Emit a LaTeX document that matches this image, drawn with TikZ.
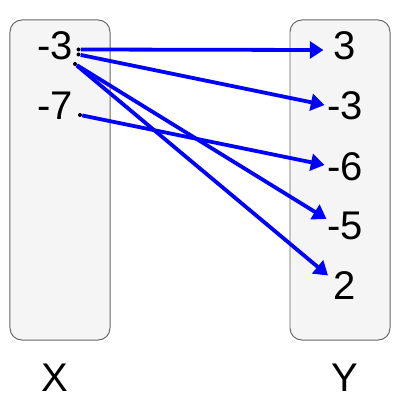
\documentclass[tikz,border=0pt]{standalone}
\usepackage{fontspec}
\setmainfont{Liberation Sans}
\definecolor{SetFill}{RGB}{245, 245, 245}
\definecolor{SetEdge}{RGB}{102, 102, 102}
\definecolor{MapBlue}{RGB}{0, 0, 255}
\usepackage{tikz}
\usetikzlibrary{arrows.meta}

\begin{document}
\begin{tikzpicture}[x=0.025cm, y=-0.025cm,
        setbox/.style={draw=SetEdge, fill=SetFill, line width=0.7pt, rounded corners=0.3cm,
            minimum width=2.5cm, minimum height=8cm},
        val/.style={font=\fontsize{28.45}{34}\selectfont, inner sep=0pt},
        src/.style={circle, fill=black, inner sep=0pt, minimum size=0.1cm},
        map/.style={MapBlue, line width=2.7pt, -{Triangle[length=0.34cm, width=0.42cm]}}]
        \useasboundingbox (0,0) rectangle (400,400);

        % The two sets
        \node[setbox] (setX) at (60,180) {};
        \node[setbox] (setY) at (340,180) {};

        % Elements of X
        \node[val] (x1) at (55,46) {-3};
        \node[val] (x2) at (55,106) {-7};

        % Elements of Y
        \node[val] (y1) at (345,46) {3};
        \node[val] (y2) at (345,106) {-3};
        \node[val] (y3) at (345,167) {-6};
        \node[val] (y4) at (345,226) {-5};
        \node[val] (y5) at (345,286) {2};

        % Set names
        \node[val] (labX) at (55,378) {X};
        \node[val] (labY) at (345,378) {Y};

        % Start dots and arrow ends
        \node[src] (x1a) at (78.5,49.5) {};
        \node[src] (x1b) at (78.5,54.5) {};
        \node[src] (x1c) at (75,64) {};
        \node[src] (x2a) at (80,115) {};
        \coordinate (y1in) at (323.5,50);
        \coordinate (y2in) at (324.5,105);
        \coordinate (y3in) at (324.5,165);
        \coordinate (y4in) at (326.5,219);
        \coordinate (y5in) at (328,275.5);

        % Mapping
        \draw[map] (x1a) -- (y1in);
        \draw[map] (x1b) -- (y2in);
        \draw[map] (x2a) -- (y3in);
        \draw[map] (x1c) -- (y4in);
        \draw[map] (x1c) -- (y5in);
\end{tikzpicture}
\end{document}
